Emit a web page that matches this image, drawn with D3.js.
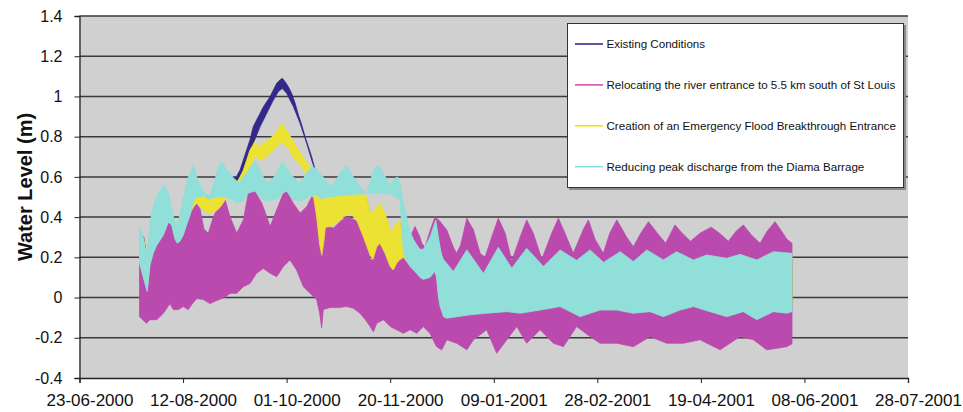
<!DOCTYPE html>
<html>
<head>
<meta charset="utf-8">
<script src="https://cdn.jsdelivr.net/npm/d3@7"></script>
<style>
  body { margin: 0; background: #ffffff; }
  svg text { font-family: "Liberation Sans", Arial, Helvetica, sans-serif; fill: #111; }
</style>
</head>
<body>
<svg id="chart" width="963" height="412"></svg>
<script>
// Water level envelopes (m) for four scenarios; day = days since 23-06-2000.
const axisStart = "23-06-2000";
const xTickLabels = ["23-06-2000", "12-08-2000", "01-10-2000", "20-11-2000", "09-01-2001",
                     "28-02-2001", "19-04-2001", "08-06-2001", "28-07-2001"];
const yTicks = [-0.4, -0.2, 0, 0.2, 0.4, 0.6, 0.8, 1, 1.2, 1.4];
const seriesNames = [
  "Existing Conditions",
  "Relocating the river entrance to 5.5 km south of St Louis",
  "Creation of an Emergency Flood Breakthrough Entrance",
  "Reducing peak discharge from the Diama Barrage"
];

// Existing Conditions: upper and lower envelope of the tidal signal
const existingUpper = [[29,0.33],[31,0.30],[32.5,0.20],[33.5,0.28],[35,0.41],[36.5,0.46],[39,0.515],[41,0.545],[43,0.50],[44.5,0.42],[46,0.35],[48,0.36],[49.5,0.43],[51,0.515],[52.5,0.58],[54.2,0.625],[55,0.645],[56.6,0.585],[59,0.53],[61.4,0.495],[63,0.49],[65.4,0.57],[67,0.635],[68.6,0.665],[71,0.62],[72.7,0.605],[74.3,0.595],[75.7,0.60],[77.5,0.634],[79.1,0.684],[80.7,0.734],[82.3,0.784],[83.9,0.85],[85.5,0.883],[87.2,0.916],[88.8,0.949],[90.4,0.974],[92,0.999],[93.6,1.032],[95.2,1.065],[96.8,1.082],[97.9,1.09],[99.2,1.074],[100.8,1.049],[102.4,1.016],[104.1,0.966],[105.7,0.908],[107.3,0.858],[108.9,0.80],[110.5,0.75],[112.1,0.70],[113.2,0.655],[114.2,0.62],[115.5,0.52],[117,0.51],[120,0.51],[125,0.51],[130,0.515],[135,0.51],[138.7,0.49],[140.3,0.41],[142,0.42],[143.5,0.44],[145.1,0.46],[147.5,0.41],[150,0.326],[151.5,0.33],[153.1,0.36],[154.7,0.375],[156,0.29],[157,0.21],[158,0.17],[161,0.26],[164.4,0.21],[167.6,0.24],[170.8,0.32],[172,0.35],[173.3,0.27],[175.7,0.16],[180.5,0.10],[187,0.21],[195,0.09],[202.2,0.22],[208.7,0.12],[215.9,0.215],[224,0.125],[232,0.207],[240,0.155],[246.5,0.207],[253,0.145],[261,0.198],[267.4,0.15],[273.9,0.207],[281.9,0.157],[288.3,0.198],[296.4,0.157],[302.8,0.182],[312.5,0.165],[318.9,0.185],[327,0.157],[335,0.198],[344,0.19]];
const existingLower = [[29,0.18],[31.6,0.08],[32.7,0.04],[34,0.17],[35.6,0.23],[37.3,0.27],[40.5,0.32],[42.9,0.385],[44.5,0.37],[46.1,0.30],[47.2,0.28],[48.5,0.29],[50.1,0.32],[51.7,0.37],[53.4,0.42],[55,0.49],[56.6,0.51],[60,0.515],[63,0.50],[66,0.51],[70,0.51],[73,0.50],[76,0.50],[77.5,0.59],[79.1,0.585],[80.7,0.634],[82.3,0.684],[83.9,0.767],[87.2,0.85],[90.4,0.916],[93.6,0.982],[96,1.024],[97.9,1.04],[100,1.016],[103.3,0.949],[106.5,0.866],[109.7,0.767],[112.1,0.684],[113.7,0.634],[115,0.50],[117,0.40],[118.7,0.37],[121,0.373],[124,0.39],[127.4,0.42],[130.6,0.44],[133.8,0.406],[137,0.323],[140.3,0.23],[141.7,0.21],[143.5,0.273],[145.1,0.29],[147.5,0.24],[150,0.174],[151.5,0.157],[153.1,0.19],[154.8,0.21],[156.4,0.22],[158,0.19],[159.6,0.174],[162.8,0.14],[164.4,0.12],[166,0.11],[169.2,0.12],[171.5,0.15],[172.4,0.12],[173.3,0.02],[174.1,-0.025],[175.7,-0.075],[177.3,-0.083],[188.6,-0.066],[196.6,-0.058],[206.3,-0.05],[212.7,-0.058],[222.4,-0.042],[232,-0.025],[241.7,-0.075],[251.3,-0.042],[259.4,-0.042],[267.4,-0.058],[275.5,-0.05],[281.9,-0.075],[290,-0.042],[296.4,-0.025],[304.4,-0.05],[312.5,-0.075],[320.5,-0.05],[327,-0.09],[335,-0.05],[341.5,-0.058],[344,-0.05]];

// Relocating the river entrance
const relocatingUpper = [[29,0.18],[31.6,0.08],[32.7,0.04],[34,0.17],[35.6,0.23],[37.3,0.27],[40.5,0.32],[42.9,0.386],[44.5,0.37],[46.1,0.30],[47.2,0.28],[48.5,0.29],[50.1,0.32],[51.7,0.37],[53.4,0.42],[56.6,0.468],[58.2,0.44],[60.1,0.34],[62.2,0.32],[64.6,0.40],[67,0.45],[70.3,0.485],[72.7,0.402],[75.9,0.32],[79.1,0.386],[81.5,0.518],[84.7,0.527],[88,0.469],[90.4,0.402],[92,0.353],[95.2,0.436],[98.4,0.518],[100,0.527],[103.2,0.469],[106.5,0.42],[109.7,0.452],[112.1,0.50],[114.5,0.49],[117.7,0.44],[118.5,0.36],[122.6,0.345],[126,0.38],[129,0.402],[132,0.39],[135.4,0.369],[138.7,0.286],[140.3,0.19],[141.1,0.187],[143.5,0.25],[145.1,0.27],[147.5,0.22],[150,0.154],[151.5,0.137],[154,0.187],[156.4,0.204],[159.6,0.30],[162,0.353],[164.4,0.30],[165.2,0.27],[166.8,0.25],[169.2,0.33],[171.6,0.40],[174,0.38],[177.3,0.336],[180.5,0.25],[182,0.22],[184,0.26],[187,0.394],[190.2,0.336],[193.4,0.22],[195.8,0.20],[199,0.30],[202.2,0.394],[205.5,0.32],[208.7,0.18],[212.7,0.30],[215.9,0.386],[219.1,0.32],[223.2,0.19],[228,0.32],[231.2,0.394],[234.4,0.32],[238.4,0.22],[243.3,0.34],[245.7,0.386],[248.9,0.29],[252.9,0.22],[256,0.32],[259.4,0.386],[264.2,0.30],[267.4,0.253],[271,0.32],[274.7,0.377],[279,0.32],[283,0.27],[287.5,0.361],[291,0.32],[295,0.28],[299.6,0.32],[305,0.35],[309,0.32],[313.3,0.28],[317,0.33],[320.5,0.361],[324.5,0.31],[328.6,0.27],[332,0.33],[335.8,0.377],[339,0.33],[341.5,0.29],[344,0.27]];
const relocatingLower = [[29,-0.095],[30.5,-0.11],[32.4,-0.128],[34,-0.11],[37.3,-0.11],[40.5,-0.078],[43.7,-0.03],[45.3,-0.06],[47.7,-0.06],[50.1,-0.045],[52.5,-0.06],[54.2,-0.035],[56.6,-0.005],[59.8,-0.01],[63,-0.03],[66.2,-0.015],[70,0.0],[72.7,0.021],[75.9,0.021],[79.1,0.054],[82.3,0.07],[85.5,0.121],[88.8,0.145],[92,0.121],[95.2,0.104],[98.4,0.154],[101.6,0.187],[104.8,0.137],[108.1,0.054],[111.3,0.021],[114.5,-0.01],[116,-0.08],[116.9,-0.15],[117.7,-0.06],[120.9,-0.05],[125,-0.05],[129,-0.045],[132.2,-0.053],[135.4,-0.078],[138,-0.11],[140.3,-0.144],[141.9,-0.17],[143.5,-0.128],[146.7,-0.11],[150,-0.144],[153.1,-0.16],[156.4,-0.178],[159.6,-0.16],[162.8,-0.178],[166,-0.144],[169.2,-0.178],[172.4,-0.244],[174.9,-0.26],[177.3,-0.21],[182.1,-0.227],[187,-0.26],[190.2,-0.21],[196.6,-0.16],[201.4,-0.277],[206.3,-0.21],[211.1,-0.144],[215.9,-0.227],[222.4,-0.16],[228.8,-0.227],[233.6,-0.244],[240,-0.144],[246.5,-0.194],[251.3,-0.227],[259.4,-0.227],[267.4,-0.244],[275.5,-0.194],[283.5,-0.227],[291.6,-0.227],[299.6,-0.21],[309.3,-0.26],[318.9,-0.194],[325.4,-0.21],[331.8,-0.26],[341.5,-0.244],[344,-0.23]];

// Emergency flood breakthrough entrance
const breakthroughUpper = [[29,0.33],[31,0.29],[32.5,0.2],[33.5,0.28],[35,0.41],[36.5,0.46],[39,0.515],[41,0.54],[43,0.50],[44.5,0.42],[46,0.35],[48,0.36],[49.5,0.43],[51,0.51],[52.5,0.58],[54.2,0.615],[55,0.63],[56.6,0.58],[59,0.53],[61.4,0.495],[63,0.49],[65.4,0.565],[67,0.63],[68.6,0.66],[71,0.615],[72.7,0.60],[74.3,0.585],[76,0.575],[77.5,0.60],[79.1,0.634],[80.7,0.684],[82.3,0.734],[84.7,0.775],[86.4,0.75],[88.8,0.767],[92,0.79],[95.2,0.825],[97.6,0.866],[100,0.833],[103.3,0.775],[106.5,0.72],[109.7,0.672],[112.1,0.634],[113.5,0.60],[115,0.53],[117,0.52],[120,0.52],[125,0.52],[130,0.525],[135,0.52],[138.7,0.50],[140.3,0.42],[142,0.43],[143.5,0.45],[145.1,0.47],[147.5,0.42],[150,0.336],[151.5,0.34],[153.1,0.37],[154.7,0.385],[156,0.30],[157,0.22],[158,0.18],[161,0.27],[164.4,0.22],[167.6,0.25],[170.8,0.33],[172,0.36],[173.3,0.28],[175.7,0.17],[180.5,0.11],[187,0.22],[195,0.10],[202.2,0.23],[208.7,0.13],[215.9,0.225],[224,0.135],[232,0.217],[240,0.165],[246.5,0.217],[253,0.155],[261,0.208],[267.4,0.16],[273.9,0.217],[281.9,0.167],[288.3,0.208],[296.4,0.167],[302.8,0.192],[312.5,0.175],[318.9,0.195],[327,0.167],[335,0.208],[344,0.20]];
const breakthroughLower = [[29,0.18],[31.6,0.08],[32.7,0.04],[34,0.17],[35.6,0.23],[37.3,0.27],[40.5,0.32],[42.9,0.386],[44.5,0.37],[46.1,0.30],[48.5,0.29],[50.1,0.32],[51.7,0.37],[53.4,0.42],[55,0.45],[56.6,0.47],[58.2,0.45],[60,0.43],[63,0.42],[66,0.43],[68,0.45],[70.3,0.485],[72,0.52],[75,0.55],[77,0.56],[79.1,0.585],[82.3,0.651],[84.7,0.70],[87.2,0.684],[90.4,0.70],[93.6,0.734],[97.6,0.775],[100.8,0.742],[104,0.684],[107.3,0.651],[109.7,0.61],[111.5,0.57],[113,0.50],[114.5,0.40],[116,0.26],[117,0.21],[118,0.28],[118.7,0.35],[121,0.353],[124,0.37],[127.4,0.40],[130.6,0.419],[133.8,0.386],[137,0.303],[140.3,0.21],[141.7,0.19],[143.5,0.253],[145.1,0.27],[147.5,0.22],[150,0.154],[151.5,0.137],[153.1,0.17],[154.8,0.19],[156.4,0.20],[158,0.18],[159.6,0.17],[162.8,0.14],[164.4,0.12],[166,0.11],[169.2,0.12],[171.5,0.15],[172.4,0.12],[173.3,0.02],[174.1,-0.025],[175.7,-0.075],[177.3,-0.083],[188.6,-0.066],[196.6,-0.058],[206.3,-0.05],[212.7,-0.058],[222.4,-0.042],[232,-0.025],[241.7,-0.075],[251.3,-0.042],[259.4,-0.042],[267.4,-0.058],[275.5,-0.05],[281.9,-0.075],[290,-0.042],[296.4,-0.025],[304.4,-0.05],[312.5,-0.075],[320.5,-0.05],[327,-0.09],[335,-0.05],[341.5,-0.058],[344,-0.05]];

// Reduced peak discharge from the Diama Barrage
const diamaUpper = [[29,0.35],[30.5,0.32],[31.5,0.25],[32.5,0.22],[33.5,0.30],[34.8,0.42],[36.4,0.48],[38.9,0.535],[41,0.56],[42.9,0.52],[44.5,0.44],[46.1,0.37],[47.7,0.38],[49.3,0.45],[51,0.535],[52.5,0.60],[54.2,0.63],[55,0.665],[56.6,0.60],[59,0.545],[61.4,0.51],[63,0.505],[65.4,0.585],[67,0.65],[68.6,0.68],[71,0.635],[72.7,0.62],[74.3,0.595],[77,0.57],[80.7,0.62],[83.1,0.655],[84.7,0.68],[87.1,0.635],[88.8,0.60],[90.4,0.57],[93.6,0.595],[96.8,0.65],[98,0.675],[100.8,0.635],[103.2,0.60],[106.5,0.565],[109.7,0.62],[112.5,0.652],[114.5,0.635],[117.7,0.60],[121,0.552],[122.6,0.565],[125.8,0.618],[129,0.659],[132.2,0.60],[135.4,0.552],[138.7,0.518],[141.9,0.634],[144.3,0.66],[146.7,0.618],[150,0.56],[152,0.59],[153.5,0.60],[154.8,0.57],[156,0.49],[158,0.40],[159.6,0.33],[161.2,0.29],[163,0.26],[164.4,0.24],[166,0.24],[167.6,0.27],[169.2,0.30],[170.8,0.35],[172,0.385],[173.3,0.30],[174.5,0.22],[175.7,0.19],[180.5,0.13],[187,0.237],[195,0.12],[202.2,0.25],[208.7,0.146],[215.9,0.245],[224,0.155],[232,0.237],[240,0.185],[246.5,0.237],[253,0.175],[261,0.228],[267.4,0.179],[273.9,0.237],[281.9,0.187],[288.3,0.228],[296.4,0.187],[302.8,0.212],[312.5,0.195],[318.9,0.215],[327,0.187],[335,0.228],[344,0.22]];
const diamaLower = [[29,0.17],[31.6,0.07],[32.7,0.03],[34,0.16],[35.6,0.22],[37.3,0.26],[40.5,0.31],[42.9,0.375],[44.5,0.36],[46.1,0.29],[47.2,0.27],[48.5,0.28],[50.1,0.31],[51.7,0.36],[53.4,0.41],[55,0.48],[56.6,0.50],[60,0.505],[63,0.49],[66,0.50],[70,0.50],[73,0.49],[76,0.47],[79,0.48],[81.5,0.52],[84.7,0.53],[88,0.49],[92,0.48],[95,0.49],[98.4,0.52],[100,0.53],[103,0.49],[106,0.48],[109,0.49],[112,0.51],[114.5,0.51],[117,0.49],[120,0.50],[130,0.51],[140,0.52],[150,0.515],[153,0.50],[154.8,0.48],[155.6,0.35],[156.4,0.22],[158,0.18],[159.6,0.154],[162.8,0.12],[164.4,0.10],[166,0.09],[169.2,0.10],[171.5,0.13],[172.4,0.10],[173.3,0.0],[174.1,-0.045],[175.7,-0.095],[177.3,-0.103],[188.6,-0.086],[196.6,-0.078],[206.3,-0.07],[212.7,-0.078],[222.4,-0.062],[232,-0.045],[241.7,-0.095],[251.3,-0.062],[259.4,-0.062],[267.4,-0.078],[275.5,-0.07],[281.9,-0.095],[290,-0.062],[296.4,-0.045],[304.4,-0.07],[312.5,-0.095],[320.5,-0.07],[327,-0.11],[335,-0.07],[341.5,-0.078],[344,-0.07]];

const bandColors = ["#33288a", "#ba4aad", "#ebe233", "#90dfd8"];
const legendColors = ["#231c80", "#d244b2", "#ece400", "#84e0de"];

// ---- drawing ----
const svg = d3.select("#chart");
const margin = { left: 79.5, right: 908, top: 16, bottom: 378 };
const parseDay = d3.utcParse("%d-%m-%Y");
const origin = parseDay(axisStart);
const dayToDate = d => new Date(origin.getTime() + d * 86400000);
const tickDates = xTickLabels.map(parseDay);

const x = d3.scaleUtc()
  .domain([tickDates[0], tickDates[tickDates.length - 1]])
  .range([margin.left, margin.right]);
const y = d3.scaleLinear()
  .domain([yTicks[0], yTicks[yTicks.length - 1]])
  .range([margin.bottom, margin.top]);

// plot background
svg.append("rect")
  .attr("x", x.range()[0]).attr("y", y.range()[1])
  .attr("width", x.range()[1] - x.range()[0])
  .attr("height", y.range()[0] - y.range()[1])
  .attr("fill", "#d0d0d0");

// horizontal gridlines
svg.append("g").selectAll("line").data(yTicks.slice(1)).join("line")
  .attr("x1", x.range()[0]).attr("x2", x.range()[1])
  .attr("y1", d => y(d)).attr("y2", d => y(d))
  .attr("stroke", "#3a3a3a").attr("stroke-width", 1.5);

// envelope bands, drawn back to front
const bands = [
  [existingUpper, existingLower],
  [relocatingUpper, relocatingLower],
  [breakthroughUpper, breakthroughLower],
  [diamaUpper, diamaLower]
];
const outline = d3.line().x(p => x(dayToDate(p[0]))).y(p => y(p[1]));
bands.forEach(([upper, lower], i) => {
  const ring = upper.concat(lower.slice().reverse());
  svg.append("path")
    .attr("d", outline(ring) + "Z")
    .attr("fill", bandColors[i])
    .attr("stroke", bandColors[i])
    .attr("stroke-width", 0.8)
    .attr("stroke-linejoin", "round");
});

// axes
const xAxis = d3.axisBottom(x).tickValues(tickDates)
  .tickFormat(d3.utcFormat("%d-%m-%Y")).tickSize(5).tickPadding(11);
const gx = svg.append("g").attr("transform", `translate(0,${margin.bottom})`).call(xAxis);
gx.select(".domain").attr("stroke", "#222").attr("stroke-width", 1.3);
gx.selectAll(".tick line").attr("stroke", "#222");
gx.selectAll(".tick text").attr("dx", 10).style("font-size", "17px")
  .style("font-family", "'Liberation Sans', Arial, sans-serif").attr("fill", "#111");

const yAxis = d3.axisLeft(y).tickValues(yTicks).tickFormat(d => String(d)).tickSize(5).tickPadding(12);
const gy = svg.append("g").attr("transform", `translate(${margin.left},0)`).call(yAxis);
gy.select(".domain").attr("stroke", "#222").attr("stroke-width", 1.3);
gy.selectAll(".tick line").attr("stroke", "#222");
gy.selectAll(".tick text").style("font-size", "16px")
  .style("font-family", "'Liberation Sans', Arial, sans-serif").attr("fill", "#111");

// y-axis title
svg.append("text")
  .attr("transform", `translate(32,${(margin.top + margin.bottom) / 2 - 10}) rotate(-90)`)
  .attr("text-anchor", "middle")
  .style("font-size", "20px").style("font-weight", "bold")
  .text("Water Level (m)");

// legend
const lg = svg.append("g");
lg.append("rect").attr("x", 569).attr("y", 25).attr("width", 337).attr("height", 165).attr("fill", "#8a8a8a");
lg.append("rect").attr("x", 567.5).attr("y", 23.5).attr("width", 336).attr("height", 164)
  .attr("fill", "#ffffff").attr("stroke", "#333").attr("stroke-width", 1);
seriesNames.forEach((name, i) => {
  const cy = 44 + i * 40.9;
  lg.append("line").attr("x1", 575).attr("x2", 603).attr("y1", cy).attr("y2", cy)
    .attr("stroke", legendColors[i]).attr("stroke-width", 1.5);
  lg.append("text").attr("x", 606.5).attr("y", cy).attr("dy", "0.35em")
    .style("font-size", "11.6px").text(name);
});
</script>
</body>
</html>
